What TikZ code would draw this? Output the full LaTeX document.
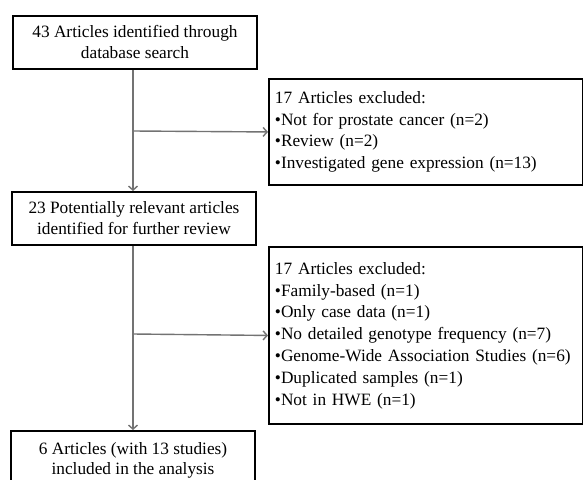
\documentclass[tikz,border=0pt]{standalone}
\usepackage{fontspec}
\setmainfont{Liberation Serif}
\usetikzlibrary{arrows.meta}
\tikzset{
  stagebox/.style={draw, line width=1.9pt, anchor=north west, minimum width=244pt, minimum height=53pt, align=center, inner sep=0pt, font=\fontsize{17.3}{21}\selectfont},
  exclbox/.style={draw, line width=1.9pt, anchor=north west, minimum width=314pt, align=left, text width=302pt, inner xsep=6pt, font=\fontsize{17.3}{21.8}\selectfont},
  flow/.style={draw=black!55, line width=1.4pt, -{Straight Barb[length=4pt,width=9pt]}}
}
\begin{document}
\begin{tikzpicture}[x=1pt, y=-1pt]
\clip (0,0) rectangle (583,479);
\path[use as bounding box, fill=white] (0,0) rectangle (583,479);
\node[stagebox] (found) at (12,15) {43 Articles identified through\\database search};
\node[exclbox, minimum height=106pt] (excl1) at (268,78) {17 Articles excluded:\\
•Not for prostate cancer (n=2)\\
•Review (n=2)\\
•Investigated gene expression (n=13)};
\node[stagebox] (relevant) at (11,191) {23 Potentially relevant articles\\identified for further review};
\node[exclbox, minimum height=177pt] (excl2) at (268,246) {17 Articles excluded:\\
•Family-based (n=1)\\
•Only case data (n=1)\\
•No detailed genotype frequency (n=7)\\
•Genome-Wide Association Studies (n=6)\\
•Duplicated samples (n=1)\\
•Not in HWE (n=1)};
\node[stagebox, minimum height=58pt, anchor=north, font=\fontsize{17.3}{20}\selectfont] (included) at (133,430) {6 Articles (with 13 studies)\\included in the analysis};
\coordinate (j1) at (133,131);
\coordinate (j2) at (133,334);
\path[flow] (found.south -| j1) -- (relevant.north -| j1);
\path[flow] (relevant.south -| j1) -- (included.north -| j1);
\path[flow] (j1) -- (excl1.west);
\path[flow] (j2) -- (excl2.west);
\end{tikzpicture}
\end{document}
